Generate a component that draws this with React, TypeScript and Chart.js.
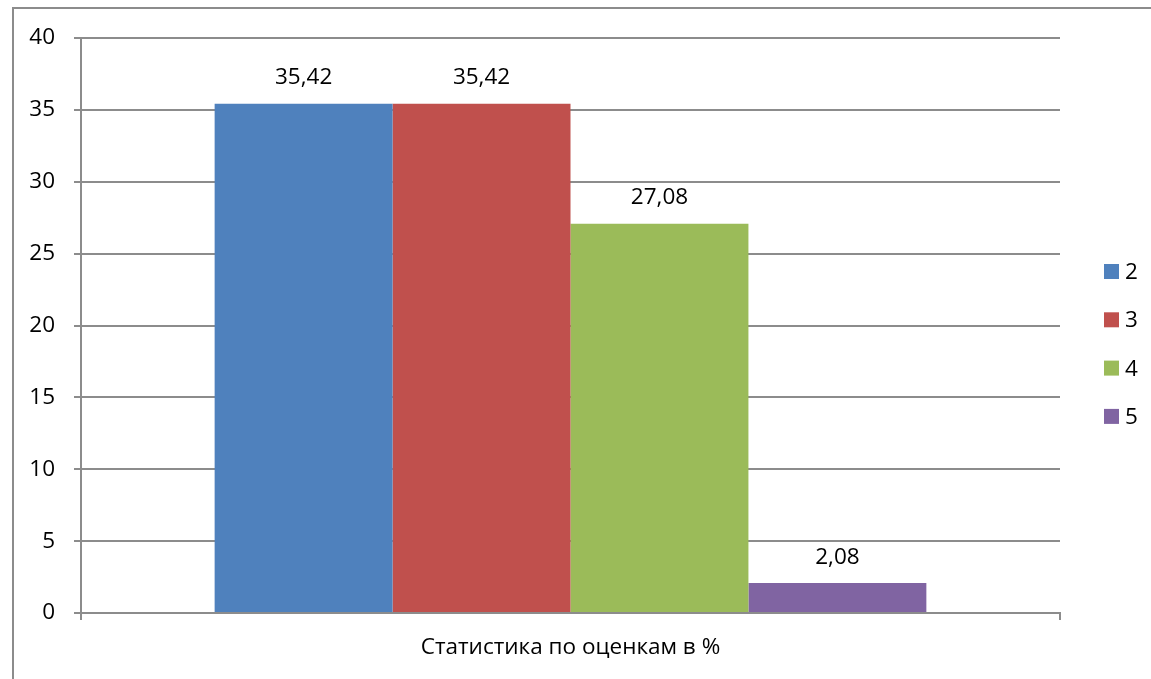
import React, { useEffect, useRef } from "react";
import { Chart, registerables } from "chart.js";

Chart.register(...registerables);

const categories = ["Статистика по оценкам в %"];
const seriesNames = ["2", "3", "4", "5"];
const seriesValues = [35.42, 35.42, 27.08, 2.08];
const seriesLabels = ["35,42", "35,42", "27,08", "2,08"];
const seriesColors = ["#4F81BD", "#C0504D", "#9BBB59", "#8064A2"];
const yTicks = [0, 5, 10, 15, 20, 25, 30, 35, 40];

const FONT = "'Open Sans', 'Noto Sans', sans-serif";
const FS = 22.5;

const labelsPlugin = {
  id: "barLabels",
  afterDatasetsDraw(chart: any) {
    const ctx = chart.ctx;
    ctx.save();
    ctx.fillStyle = "#000";
    ctx.font = `${FS}px ${FONT}`;
    ctx.textAlign = "center";
    ctx.textBaseline = "middle";
    chart.data.datasets.forEach((ds: any, i: number) => {
      const meta = chart.getDatasetMeta(i);
      meta.data.forEach((bar: any) => {
        ctx.fillText(seriesLabels[i], bar.x, bar.y - 26);
      });
    });
    // custom legend
    const x0 = 1104;
    const y0 = 271.5;
    const step = 48.3;
    ctx.textAlign = "left";
    seriesNames.forEach((name, i) => {
      const cy = y0 + i * step;
      ctx.fillStyle = seriesColors[i];
      ctx.fillRect(x0, cy - 7.5, 15, 15);
      ctx.fillStyle = "#000";
      ctx.fillText(name, x0 + 21, cy + 1);
    });
    ctx.restore();
  },
};

export default function App() {
  const ref = useRef<HTMLCanvasElement>(null);
  useEffect(() => {
    if (!ref.current) return;
    const chart = new Chart(ref.current, {
      type: "bar",
      data: {
        labels: categories,
        datasets: seriesNames.map((n, i) => ({
          label: n,
          data: [seriesValues[i]],
          backgroundColor: seriesColors[i],
          borderWidth: 0,
          barPercentage: 1,
          categoryPercentage: 0.727,
        })),
      },
      options: {
        animation: false,
        responsive: false,
        maintainAspectRatio: false,
        layout: { padding: { left: 0, right: 91, top: 38, bottom: 0 } },
        plugins: {
          legend: { display: false },
          tooltip: { enabled: false },
        },
        scales: {
          x: {
            grid: {
              display: true,
              offset: true,
              drawOnChartArea: false,
              tickLength: 7,
              color: "#8c8c8c",
              lineWidth: 2,
            },
            border: { display: true, color: "#8c8c8c", width: 2 },
            ticks: { display: false },
            title: {
              display: true,
              text: categories[0],
              color: "#000",
              font: { family: FONT, size: FS, lineHeight: 1.2 },
              padding: { top: 14, bottom: 18 },
            },
          },
          y: {
            min: 0,
            max: 40,
            afterBuildTicks: (scale: any) => {
              scale.ticks = yTicks.map((v) => ({ value: v }));
            },
            afterFit: (scale: any) => {
              scale.width = 81;
            },
            grid: {
              color: "#8c8c8c",
              lineWidth: 2,
              tickLength: 7,
            },
            border: { display: true, color: "#8c8c8c", width: 2 },
            ticks: {
              color: "#000",
              padding: 19,
              font: { family: FONT, size: FS },
            },
          },
        },
      },
      plugins: [labelsPlugin],
    });
    return () => chart.destroy();
  }, []);
  return (
    <div
      style={{
        position: "fixed",
        left: 0,
        top: 0,
        width: 1151,
        height: 679,
        background: "#fff",
        overflow: "hidden",
      }}
    >
      <div
        style={{
          position: "absolute",
          left: 12,
          top: 7,
          width: 1200,
          height: 700,
          borderLeft: "2px solid #8c8c8c",
          borderTop: "2px solid #8c8c8c",
        }}
      />
      <canvas
        ref={ref}
        width={1151}
        height={679}
        style={{ position: "absolute", left: 0, top: 0, width: 1151, height: 679 }}
      />
    </div>
  );
}
